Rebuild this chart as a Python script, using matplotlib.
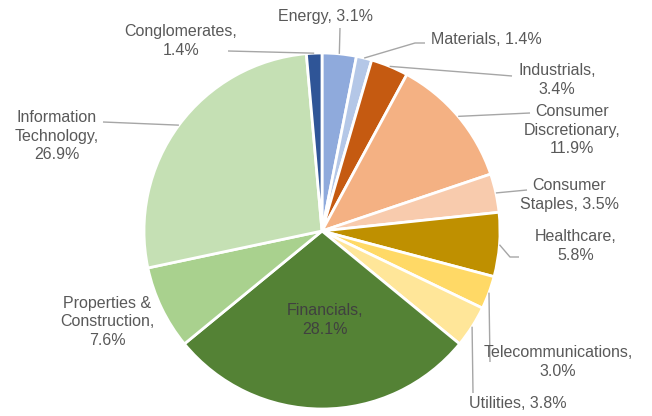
import matplotlib.pyplot as plt
import numpy as np

sectors = ["Energy", "Materials", "Industrials", "Consumer\nDiscretionary", "Consumer\nStaples",
           "Healthcare", "Telecommunications", "Utilities", "Financials",
           "Properties &\nConstruction", "Information\nTechnology", "Conglomerates"]
shares = [3.1, 1.4, 3.4, 11.9, 3.5, 5.8, 3.0, 3.8, 28.1, 7.6, 26.9, 1.4]
colors = ["#8FAADC", "#B4C7E7", "#C55A11", "#F4B183", "#F8CBAD", "#BF9000",
          "#FFD966", "#FFE699", "#548235", "#A9D18E", "#C5E0B4", "#2F5597"]

# label texts as they break in the picture
label_text = ["Energy, {}%", "Materials, {}%", "Industrials,\n{}%", "Consumer\nDiscretionary,\n{}%",
              "Consumer\nStaples, {}%", "Healthcare,\n{}%", "Telecommunications,\n{}%",
              "Utilities, {}%", "Financials,\n{}%", "Properties &\nConstruction,\n{}%",
              "Information\nTechnology,\n{}%", "Conglomerates,\n{}%"]

# layout (pixel coords, y from top): label centre and leader path
W, H = 652, 416
cx, cy, R = 322, 231, 178
label_pos = [(326, 16), (486, 39), (557, 80), (572, 130), (569, 195), (576, 246),
             (558, 362), (518, 404), (325, 320), (107, 322), (57, 136), (181, 41)]
leader_via = [[(340, 28)], [(415, 43), (425, 43)], [(500, 75), (512, 76)], [(530, 113)],
              [(527, 190)], [(510, 257), (519, 257)], [(490, 362)], [(473, 393)],
              None, None, [(103, 122)], [(228, 51)]]

fig = plt.figure(figsize=(W / 100, H / 100), dpi=100)
ax = fig.add_axes([0, 0, 1, 1])

wedges, _ = ax.pie(shares, colors=colors, startangle=90, counterclock=False,
                   center=(cx, H - cy), radius=R,
                   wedgeprops=dict(edgecolor="white", linewidth=2))
ax.set_xlim(0, W)
ax.set_ylim(0, H)
ax.set_aspect("equal")
ax.axis("off")

for i, w in enumerate(wedges):
    txt = label_text[i].format(shares[i])
    lx, ly = label_pos[i]
    col = "#404040" if sectors[i] == "Financials" else "#595959"
    ax.text(lx, H - ly, txt, ha="center", va="center", fontsize=11.5,
            color=col, family="Liberation Sans", linespacing=1.32)
    if leader_via[i] is not None:
        ang = np.deg2rad((w.theta1 + w.theta2) / 2)
        pts = [(cx + R * np.cos(ang), H - cy + R * np.sin(ang))]
        pts += [(x, H - y) for x, y in leader_via[i]]
        xs, ys = zip(*pts)
        ax.plot(xs, ys, color="#A6A6A6", lw=1, solid_capstyle="butt")

fig.savefig("out.png", dpi=100)
